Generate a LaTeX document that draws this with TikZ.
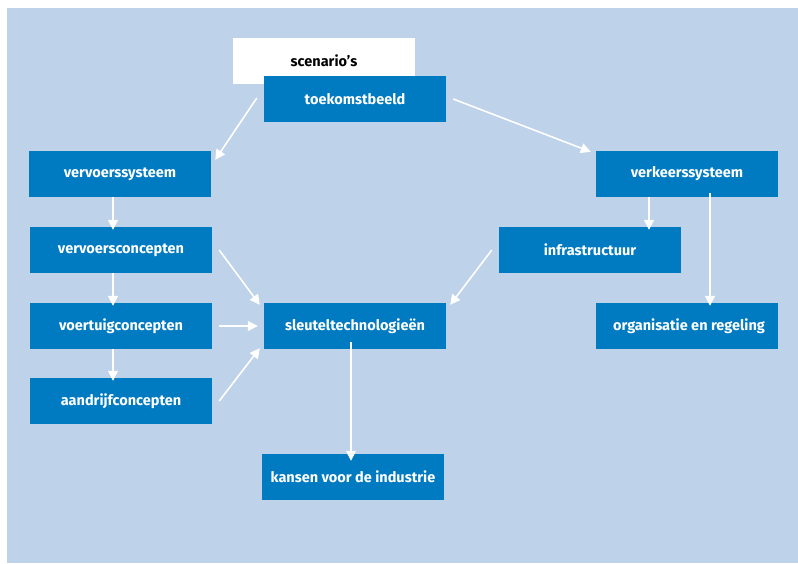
\documentclass[tikz,border=0pt]{standalone}
\usepackage{fontspec}
\setmainfont{Fira Sans}
\usepackage{tikz}
\usetikzlibrary{arrows.meta}

\definecolor{achtergrond}{RGB}{190,210,234}
\definecolor{blok}{RGB}{0,122,193}

\begin{document}
\begin{tikzpicture}[x=1pt,y=-1pt,
                    box/.style={fill=blok,text=white,minimum width=182pt,minimum height=46pt,
                                inner sep=0pt,font=\fontsize{14.5}{16}\selectfont\bfseries},
                    pijl/.style={draw=white,line width=1.6pt,-{Triangle[length=10pt,width=10pt]}}]

  % achtergrond
  \fill[achtergrond] (7,8) rectangle (798,563);
  \useasboundingbox (0,0) rectangle (798,563);

  \node[fill=white,minimum width=182pt,minimum height=46pt,inner sep=0pt,
        font=\fontsize{14.5}{16}\selectfont\bfseries] (S) at (324,61) {scenario's};
  \node[box] (T)  at (355,99)  {toekomstbeeld\hspace{16pt}};

  \node[box] (VS) at (120,174) {vervoerssysteem\hspace{14pt}};
  \node[box] (VC) at (121,250) {vervoersconcepten\hspace{8pt}};
  \node[box] (VT) at (121,326) {voertuigconcepten\hspace{14pt}};
  \node[box] (AC) at (121,401) {aandrijfconcepten\hspace{14pt}};

  \node[box] (ST) at (355,326) {sleuteltechnologieën\hspace{6pt}};
  \node[box] (KI) at (353,477) {kansen voor de industrie};

  \node[box] (KS) at (687,174) {verkeerssysteem\hspace{14pt}};
  \node[box] (IS) at (590,250) {infrastructuur\hspace{18pt}};
  \node[box] (OR) at (687,326) {\hspace{4pt}organisatie en regeling};

  \draw[pijl] ([xshift=-7pt,yshift=1pt]T.west) -- ([xshift=4pt,yshift=-9pt]VS.north east);
  \draw[pijl] ([xshift=7pt]T.east) -- ([xshift=-5pt,yshift=-1pt]KS.north west);

  \draw[pijl] ([xshift=-7pt]VS.south) -- ([xshift=-8pt,yshift=-3pt]VC.north);
  \draw[pijl] ([xshift=-8pt]VC.south) -- ([xshift=-8pt,yshift=-3pt]VT.north);
  \draw[pijl] ([xshift=-8pt]VT.south) -- ([xshift=-8pt,yshift=-3pt]AC.north);

  \draw[pijl] ([xshift=7pt]VC.east) -- ([xshift=-4pt,yshift=-2pt]ST.north west);
  \draw[pijl] ([xshift=7pt]VT.east) -- ([xshift=-6pt]ST.west);
  \draw[pijl] ([xshift=7pt]AC.east) -- ([xshift=-4pt,yshift=1pt]ST.south west);

  \draw[pijl] ([xshift=-7pt]IS.west) -- ([xshift=4pt,yshift=-2pt]ST.north east);
  \draw[pijl] ([xshift=-38pt]KS.south) -- ([xshift=59pt,yshift=-3pt]IS.north);
  \draw[pijl] ([xshift=23pt,yshift=4pt]KS.south) -- ([xshift=23pt,yshift=-3pt]OR.north);

  \draw[pijl] ([xshift=-4pt,yshift=7pt]ST.south) -- ([xshift=-2pt,yshift=-7pt]KI.north);

\end{tikzpicture}
\end{document}
